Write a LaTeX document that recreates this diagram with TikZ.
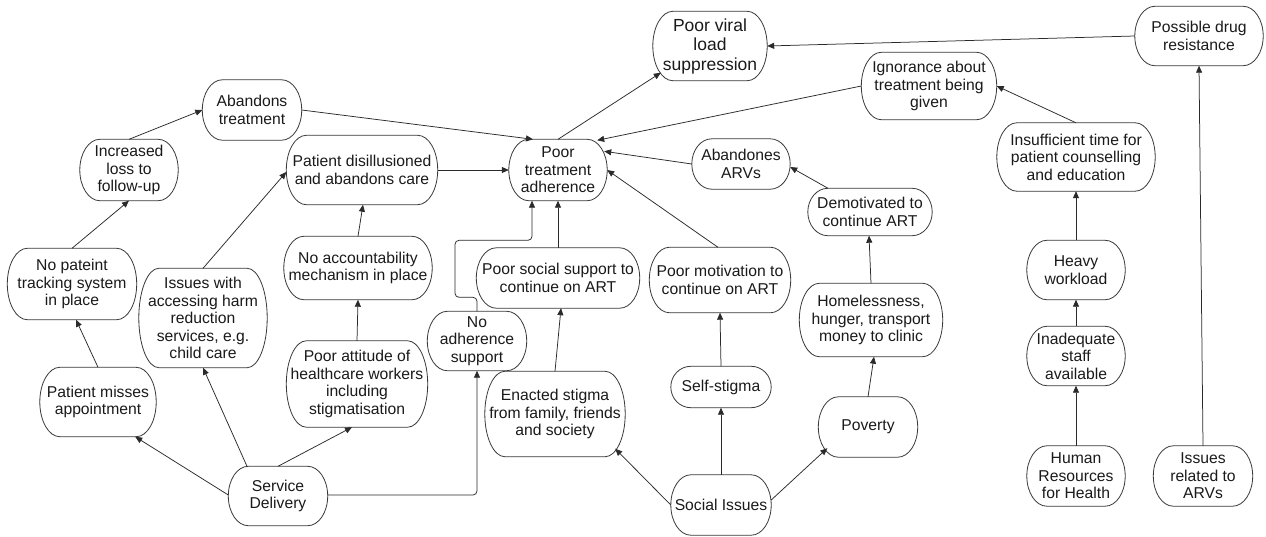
\documentclass[tikz,border=0pt]{standalone}
\usepackage{fontspec}
\setmainfont{Liberation Sans}
\usetikzlibrary{arrows.meta,calc}
\definecolor{edgec}{HTML}{3A3A3A}
\definecolor{linec}{HTML}{2A2A2A}
\definecolor{textc}{HTML}{1A1A1A}

% Node outline: flat top and bottom, elliptical ends
\newcommand\pill[1]{%
  \draw[outline] let \p1=(#1.north west), \p2=(#1.south east), \n1={(\y1-\y2)/2} in
    (\x1+20pt,\y1) -- (\x2-20pt,\y1)
    arc[start angle=90, end angle=-90, x radius=20pt, y radius=\n1]
    -- (\x1+20pt,\y2)
    arc[start angle=270, end angle=90, x radius=20pt, y radius=\n1] -- cycle;}

\tikzset{
  pillnode/.style 2 args={rectangle, inner sep=0pt, minimum width=#1pt, minimum height=#2pt,
    align=center, text=textc, font=\fontsize{15.7}{17.5}\selectfont},
  outline/.style={draw=edgec, line width=0.8pt},
  link/.style={draw=linec, line width=0.75pt, -{Triangle[length=7pt,width=6pt]}},
}

\begin{document}
\begin{tikzpicture}[x=1pt, y=-1pt]
\fill[white] (0,0) rectangle (1266,536);
\useasboundingbox (0,0) rectangle (1266,536);

% Outcomes
\node[pillnode={114}{69}, font=\fontsize{17.5}{19.5}\selectfont] (viral) at (710,46) {Poor viral\\load\\suppression};
\node[pillnode={128}{59}] (drug) at (1199,36) {Possible drug\\resistance};
\node[pillnode={98}{61}] (pta) at (558,170) {Poor\\treatment\\adherence};

% Right-hand branch
\node[pillnode={135}{67}] (ignor) at (929,86) {Ignorance about\\treatment being\\given};
\node[pillnode={158}{68}] (insuff) at (1076,157) {Insufficient time for\\patient counselling\\and education};
\node[pillnode={98}{59}] (heavy) at (1076,270) {Heavy\\workload};
\node[pillnode={98}{59}] (inadeq) at (1076,356) {Inadequate\\staff\\available};
\node[pillnode={98}{60}] (hr) at (1076,476) {Human\\Resources\\for Health};
\node[pillnode={99}{60}] (arvs) at (1203,476) {Issues\\related to\\ARVs};

% Social issues branch
\node[pillnode={98}{50}] (abarv) at (741,164) {Abandones\\ARVs};
\node[pillnode={124}{47}] (demot) at (870,212) {Demotivated to\\continue ART};
\node[pillnode={143}{73}] (homeless) at (871,320) {Homelessness,\\hunger, transport\\money to clinic};
\node[pillnode={99}{60}] (poverty) at (868,427) {Poverty};
\node[pillnode={141}{65}] (motiv) at (720,280) {Poor motivation to\\continue on ART};
\node[pillnode={100}{41}] (selfst) at (721,387) {Self-stigma};
\node[pillnode={163}{60}] (socsup) at (558,278) {Poor social support to\\continue on ART};
\node[pillnode={140}{85}] (enacted) at (555,414) {Enacted stigma\\from family, friends\\and society};
\node[pillnode={100}{60}] (social) at (721,505) {Social Issues};

% Service delivery branch
\node[pillnode={99}{60}] (abtr) at (252,110) {Abandons\\treatment};
\node[pillnode={98}{61}] (incr) at (129,170) {Increased\\loss to\\follow-up};
\node[pillnode={129}{71}] (track) at (72,284) {No pateint\\tracking system\\in place};
\node[pillnode={116}{69}] (misses) at (98,402) {Patient misses\\appointment};
\node[pillnode={128}{99}] (harm) at (203,318) {Issues with\\accessing harm\\reduction\\services, e.g.\\child care};
\node[pillnode={99}{59}] (sd) at (278,496) {Service\\Delivery};
\node[pillnode={151}{69}] (disill) at (362,170) {Patient disillusioned\\and abandons care};
\node[pillnode={148}{63}] (acct) at (358,268) {No accountability\\mechanism in place};
\node[pillnode={141}{86}] (attit) at (357,384) {Poor attitude of\\healthcare workers\\including\\stigmatisation};
\node[pillnode={99}{59}] (noadh) at (477,341) {No\\adherence\\support};

\foreach \nd in {viral,drug,pta,ignor,insuff,heavy,inadeq,hr,arvs,abarv,demot,homeless,
  poverty,motiv,selfst,socsup,enacted,social,abtr,incr,track,misses,harm,sd,disill,acct,attit,noadh}
  {\pill{\nd}}

% Connectors
\draw[link] (pta.north) -- ([xshift=8pt,yshift=8pt]viral.south west);
\draw[link] (drug.west) -- (viral.east);
\draw[link] (ignor.west) -- ([xshift=-10pt,yshift=-1pt]pta.north east);
\draw[link] (abarv.west) -- ([xshift=-3pt,yshift=-12pt]pta.north east);
\draw[link] ([xshift=-2pt]motiv.north) -- (pta.east);
\draw[link] (abtr.east) -- ([xshift=-25pt]pta.north);
\draw[link] (disill.east) -- (pta.west);
\draw[link, rounded corners=4pt] (noadh.north) -- ++(0,-14) -- ++(-22,0) -- ++(0,-57) -| ([xshift=-26pt]pta.south);
\draw[link] (socsup.north) -- (pta.south);
\draw[link] (enacted.north) -- ([xshift=3pt]socsup.south);
\draw[link] (selfst.north) -- (motiv.south);
\draw[link] (social.west) -- ([xshift=-10pt,yshift=8pt]enacted.south east);
\draw[link] (social.north) -- (selfst.south);
\draw[link] ([yshift=5pt]social.east) -- ([xshift=9pt,yshift=9pt]poverty.south west);
\draw[link] (poverty.north) -- ([xshift=3pt]homeless.south);
\draw[link] (homeless.north) -- ([xshift=-1pt]demot.south);
\draw[link] ([xshift=-42pt]demot.north) -- ([yshift=-3pt]abarv.east);
\draw[link] (insuff.north) -- (ignor.east);
\draw[link] (heavy.north) -- (insuff.south);
\draw[link] (inadeq.north) -- (heavy.south);
\draw[link] (hr.north) -- (inadeq.south);
\draw[link] (arvs.north) -- (drug.south);
\draw[link] ([yshift=1pt]sd.west) -- ([xshift=-21pt]misses.south east);
\draw[link] ([xshift=-31pt]sd.north) -- (harm.south);
\draw[link] (sd.north) -- ([xshift=-5pt]attit.south);
\draw[link, rounded corners=4pt] ([yshift=1pt]sd.east) -| (noadh.south);
\draw[link] (harm.north) -- ([yshift=-2pt]disill.west);
\draw[link] (acct.north) -- ([xshift=1pt]disill.south);
\draw[link] (attit.north) -- (acct.south);
\draw[link] (misses.north) -- ([xshift=4pt]track.south);
\draw[link] (track.north) -- (incr.south);
\draw[link] (incr.north) -- (abtr.west);
\end{tikzpicture}
\end{document}
